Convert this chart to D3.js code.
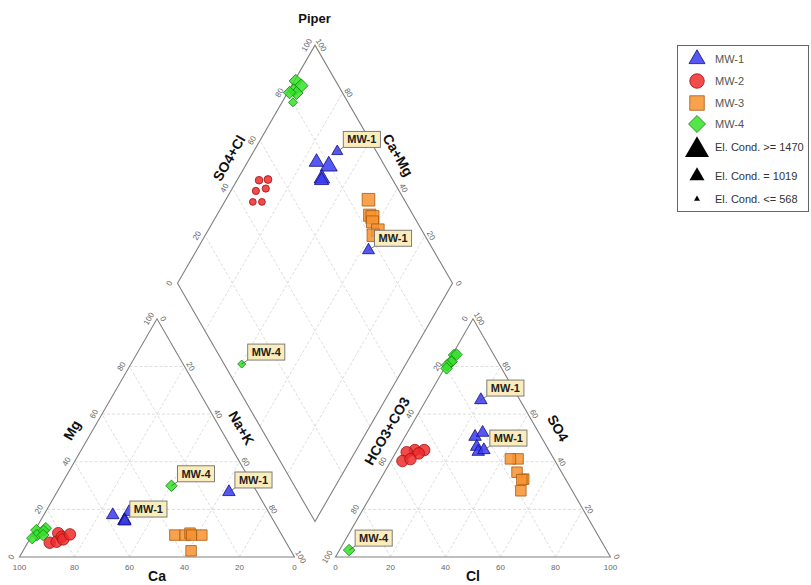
<!DOCTYPE html>
<html><head><meta charset="utf-8">
<script src="https://cdn.jsdelivr.net/npm/d3@7"></script>
<style>body{margin:0;background:#fff} svg{display:block}</style>
</head><body>
<svg id="c" width="811" height="585"></svg>
<script>
// ---------------- DATA ----------------
const wells = ["MW-1", "MW-2", "MW-3", "MW-4"];
const sampleWell = ["MW-1","MW-1","MW-1","MW-1","MW-1","MW-1",
                    "MW-2","MW-2","MW-2","MW-2","MW-2","MW-2",
                    "MW-3","MW-3","MW-3","MW-3","MW-3","MW-3",
                    "MW-4","MW-4","MW-4","MW-4","MW-4","MW-4","MW-4"];
// cations, % meq
const ca  = [54.5,57.3,50.7,54.0,54.2,10.2, 86.0,80.9,83.3,80.4,80.4,76.9, 38.9,35.2,33.0,32.8,29.1,36.3, 88.2,84.4,89.0,85.7,91.4,86.8,29.8];
const mg  = [15.1,17.6,18.9,15.5,15.0,27.3,  6.0,10.0, 6.4, 8.5, 7.4, 9.5,  9.2, 9.2,10.0, 9.2, 9.2, 2.6, 11.3,12.1, 9.2,11.0, 7.9, 9.2,29.9];
const naK = [30.4,25.1,30.4,30.5,30.8,62.5,  8.0, 9.1,10.3,11.1,12.2,13.6, 51.9,55.6,57.0,58.0,61.7,61.1,  0.5, 3.5, 1.8, 3.3, 0.7, 4.0,40.3];
// anions, % meq
const hco3 = [14.2,24.0,20.4,25.5,26.0,23.6, 48.7,52.1,55.5,45.3,48.0,52.2, 13.0,15.8,15.2,16.2,16.0,18.7, 14.5,13.5,17.1,16.8,19.2,20.0,93.6];
const cl   = [19.9,25.5,27.4,28.2,29.8,31.5,  6.4, 3.9, 4.2, 9.8, 8.5, 6.7, 45.8,43.0,52.1,48.2,51.5,53.5,  0.7, 1.5, 0.9, 1.2, 0.3, 0.8, 3.5];
const so4  = [65.9,50.5,52.2,46.3,44.2,44.9, 44.9,44.0,40.3,44.9,43.5,41.1, 41.2,41.2,32.7,35.6,32.5,27.8, 84.8,85.0,82.0,82.0,80.5,79.2, 2.9];
// electrical conductivity
const ec   = [820,1000,1120,1050,980,870, 650,630,610,660,630,610, 900,880,920,870,900,890, 930,950,900,920,890,720,670];
const labelled = [true,false,false,false,false,true, false,false,false,false,false,false,
                  false,false,false,false,false,false, false,false,false,false,false,false,true];
const tickValues = [0, 20, 40, 60, 80, 100];
const ecLegend = [1470, 1019, 568];
const ecLegendText = ["El. Cond. >= 1470", "El. Cond. = 1019", "El. Cond. <= 568"];

// ---------------- STYLE / LAYOUT ----------------
const fillC = d3.scaleOrdinal().domain(wells).range(["#3a3af2", "#ee2b2b", "#f7922f", "#36e02c"]);
const strokeC = d3.scaleOrdinal().domain(wells).range(["#10107a", "#a01010", "#a85a10", "#148a10"]);
const svg = d3.select("#c");
const FONT = "'Liberation Sans', Arial, sans-serif";
const S = 275, H = S * Math.sqrt(3) / 2, gap = 41, x0 = 19.5, y0 = 557;
const ax0 = x0 + S + gap;
const len = d3.scaleLinear().domain([0, 100]).range([0, S]);
const hgt = d3.scaleLinear().domain([0, 100]).range([0, H]);
const Bx = x0 + S + gap / 2, By = y0 - gap / 2 * Math.sqrt(3);
const ecW = d3.scaleLinear().domain([568, 1470]).range([6, 24]).clamp(true);

const cat = (m, n) => [x0 + len(n + m / 2), y0 - hgt(m)];
const ani = (c, s) => [ax0 + len(c + s / 2), y0 - hgt(s)];
const dia = (s, c) => [Bx + len(s - c) / 2, By - hgt(s + c)];

const gGrid = svg.append("g");
const line = d3.line();
function gridLine(a, b) {
  gGrid.append("path").attr("d", line([a, b])).attr("fill", "none")
    .attr("stroke", "#d4d4d4").attr("stroke-width", 0.8).attr("stroke-dasharray", "3,2");
}
[20, 40, 60, 80].forEach(v => {
  gridLine(cat(v, 0), cat(v, 100 - v));
  gridLine(cat(0, v), cat(100 - v, v));
  gridLine(cat(0, 100 - v), cat(100 - v, 0));
  gridLine(ani(0, v), ani(100 - v, v));
  gridLine(ani(v, 0), ani(v, 100 - v));
  gridLine(ani(100 - v, 0), ani(0, 100 - v));
  gridLine(dia(v, 0), dia(v, 100));
  gridLine(dia(0, v), dia(100, v));
});
const outline = pts => svg.append("path").attr("d", line(pts) + "Z").attr("fill", "none")
  .attr("stroke", "#808080").attr("stroke-width", 1.1);
outline([cat(0, 0), cat(0, 100), cat(100, 0)]);
outline([ani(0, 0), ani(100, 0), ani(0, 100)]);
outline([dia(0, 0), dia(100, 0), dia(100, 100), dia(0, 100)]);

// tick labels
const gT = svg.append("g").attr("font-family", FONT).attr("font-size", 8).attr("fill", "#666");
function tick(p, dx, dy, rot, txt) {
  gT.append("text").attr("transform", `translate(${p[0] + dx},${p[1] + dy}) rotate(${rot})`)
    .attr("text-anchor", "middle").attr("dominant-baseline", "central").text(txt);
}
tickValues.forEach(v => {
  tick([x0 + len(100 - v), y0], 0, 10, 0, v);
  tick(cat(v, 0), -8, 0, -60, v);
  tick(cat(100 - v, v), 6, 0, 60, v);
  tick([ax0 + len(v), y0], 0, 10, 0, v);
  tick(ani(0, 100 - v), -8, 0, -60, v);
  tick(ani(100 - v, v), 6, 0, 60, v);
  tick(dia(v, 100), -8, 0, -60, v);
  tick(dia(100, v), 6, 0, 60, v);
});

// titles
const gTi = svg.append("g").attr("font-family", FONT).attr("font-weight", "bold").attr("fill", "#111");
function title(x, y, rot, txt, size) {
  gTi.append("text").attr("transform", `translate(${x},${y}) rotate(${rot})`).attr("font-size", size)
    .attr("text-anchor", "middle").attr("dominant-baseline", "central").text(txt);
}
title(314.5, 18, 0, "Piper", 13);
title(x0 + S / 2, 576, 0, "Ca", 14);
title(ax0 + S / 2, 576, 0, "Cl", 14);
title(72, 430, -60, "Mg", 14);
title(241.5, 428, 60, "Na+K", 14);
title(387, 431, -60, "HCO3+CO3", 14);
title(558, 428, 60, "SO4", 14);
title(229, 158, -60, "SO4+Cl", 14);
title(398, 155, 60, "Ca+Mg", 14);

// markers
function symArea(w, well) {
  if (well === "MW-1") return Math.sqrt(3) / 4 * w * w;
  if (well === "MW-2") return Math.PI / 4 * w * w;
  if (well === "MW-3") return w * w;
  return w * w / 2;
}
function symType(well) {
  return well === "MW-1" ? d3.symbolTriangle : well === "MW-2" ? d3.symbolCircle : d3.symbolSquare;
}
const fixedW = {"MW-1": 12.5, "MW-2": 11.5, "MW-3": 10.5, "MW-4": 11.5};
function marker(g, p, well, w) {
  g.append("path")
    .attr("d", d3.symbol().type(symType(well)).size(symArea(w, well))())
    .attr("transform", `translate(${p[0]},${p[1]})` + (well === "MW-4" ? " rotate(45)" : ""))
    .attr("fill", fillC(well)).attr("fill-opacity", 0.85)
    .attr("stroke", strokeC(well)).attr("stroke-width", 0.8);
}
const gM = svg.append("g");
const idx = d3.range(sampleWell.length);
const catPts = idx.map(i => cat(mg[i], naK[i]));
const aniPts = idx.map(i => ani(cl[i], so4[i]));
const diaPts = idx.map(i => dia(so4[i] + cl[i], ca[i] + mg[i]));
idx.forEach(i => {
  marker(gM, catPts[i], sampleWell[i], fixedW[sampleWell[i]]);
  marker(gM, aniPts[i], sampleWell[i], fixedW[sampleWell[i]]);
  marker(gM, diaPts[i], sampleWell[i], ecW(ec[i]));
});

// sample labels
const gL = svg.append("g").attr("font-family", FONT);
function tag(p, txt) {
  const g = gL.append("g");
  g.append("line").attr("x1", p[0]).attr("y1", p[1]).attr("x2", p[0] + 6).attr("y2", p[1] - 4)
    .attr("stroke", "#555").attr("stroke-width", 0.8);
  const t = g.append("text").attr("x", p[0] + 10).attr("y", p[1] - 8).attr("font-size", 11)
    .attr("font-weight", "bold").attr("fill", "#222").text(txt);
  const w = t.node().getComputedTextLength() + 8;
  g.insert("rect", "text").attr("x", p[0] + 6).attr("y", p[1] - 20).attr("width", w).attr("height", 16)
    .attr("fill", "#fbecbb").attr("stroke", "#707070").attr("stroke-width", 0.9);
}
idx.filter(i => labelled[i]).forEach(i => {
  tag(catPts[i], sampleWell[i]);
  tag(aniPts[i], sampleWell[i]);
  tag(diaPts[i], sampleWell[i]);
});

// legend
const lg = svg.append("g").attr("font-family", FONT).attr("font-size", 11);
lg.append("rect").attr("x", 677.5).attr("y", 45.5).attr("width", 131).attr("height", 166)
  .attr("fill", "#fff").attr("stroke", "#666").attr("stroke-width", 1);
const legY = [59, 81, 103, 124];
wells.forEach((w, k) => {
  marker(lg, [697, legY[k]], w, w === "MW-1" ? 16 : w === "MW-4" ? 17 : 14.5);
  lg.append("text").attr("x", 715).attr("y", legY[k]).attr("dominant-baseline", "central")
    .attr("fill", "#555").text(w);
});
const ecY = [150, 176, 199];
ecLegend.forEach((v, k) => {
  const w = ecW(v);
  lg.append("path").attr("d", d3.symbol().type(d3.symbolTriangle).size(Math.sqrt(3) / 4 * w * w)())
    .attr("transform", `translate(697,${ecY[k]})`).attr("fill", "#000");
  lg.append("text").attr("x", 715).attr("y", ecY[k] + (k === 0 ? -3 : 0)).attr("dominant-baseline", "central")
    .attr("fill", "#333").text(ecLegendText[k]);
});
</script>
</body></html>
